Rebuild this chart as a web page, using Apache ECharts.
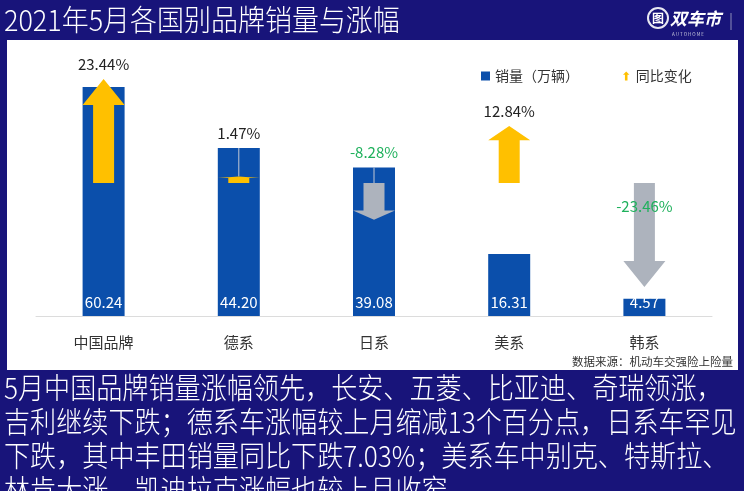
<!DOCTYPE html>
<html><head><meta charset="utf-8">
<script src="https://cdn.jsdelivr.net/npm/echarts@6/dist/echarts.min.js"></script>
<style>html,body{margin:0;padding:0;background:#18147a;}#c{width:744px;height:491px;}</style>
</head><body><div id="c"></div>
<script>
const titleText = '2021年5月各国别品牌销量与涨幅';
const categories = ['中国品牌', '德系', '日系', '美系', '韩系'];
const sales = [60.24, 44.20, 39.08, 16.31, 4.57];
const yoy = [23.44, 1.47, -8.28, 12.84, -23.46];
const legendNames = ['销量（万辆）', '同比变化'];
const sourceText = '数据来源：机动车交强险上险量';
const noteLines = [
  '5月中国品牌销量涨幅领先，长安、五菱、比亚迪、奇瑞领涨，',
  '吉利继续下跌；德系车涨幅较上月缩减13个百分点，日系车罕见',
  '下跌，其中丰田销量同比下跌7.03%；美系车中别克、特斯拉、',
  '林肯大涨，凯迪拉克涨幅也较上月收窄'
];

const FONT = '"Noto Sans CJK SC", "Microsoft YaHei", sans-serif';
const Y1 = [0, 70], Y2 = [-30, 30];
const labelInsideArrow = [false, false, false, false, true];

const chart = echarts.init(document.getElementById('c'), null, {renderer: 'canvas'});

const graphics = [
  {type: 'rect', shape: {x: 7, y: 40, width: 731, height: 330}, style: {fill: '#ffffff'}, z: -10},
  {type: 'text', x: 4, y: 20, scaleX: 0.93, style: {text: titleText, fill: '#ffffff', fontSize: 29, fontWeight: 300, fontFamily: FONT, verticalAlign: 'middle'}},
  // logo
  {type: 'circle', shape: {cx: 658, cy: 18, r: 10}, style: {fill: 'none', stroke: '#e8e8f2', lineWidth: 2}},
  {type: 'text', x: 658, y: 18, style: {text: '图', fill: '#ffffff', fontSize: 12, fontWeight: 'bold', fontFamily: FONT, align: 'center', verticalAlign: 'middle'}},
  {type: 'text', x: 670, y: 19, style: {text: '双车市', fill: '#ffffff', fontSize: 17, fontWeight: 'bold', fontStyle: 'italic', fontFamily: FONT, verticalAlign: 'middle'}},
  {type: 'text', x: 672, y: 34, style: {text: 'A U T O H O M E', fill: '#c8c8dc', fontSize: 4.5, fontFamily: FONT, verticalAlign: 'middle'}},
  {type: 'line', shape: {x1: 731, y1: 13, x2: 731, y2: 30}, style: {stroke: '#8c8cb8', lineWidth: 1}},
  {type: 'text', x: 733, y: 362, style: {text: sourceText, fill: '#333333', fontSize: 11.5, fontFamily: FONT, align: 'right', verticalAlign: 'middle'}}
];
noteLines.forEach((t, k) => {
  graphics.push({type: 'text', x: 4, y: 388 + k * 34, scaleX: 0.9,
    style: {text: t, fill: '#ffffff', fontSize: 29, fontWeight: 300, fontFamily: FONT, verticalAlign: 'middle'}});
});

function renderArrow(params, api) {
  const i = api.value(0), v = api.value(1);
  const base = api.coord([i, 0]);
  const end = api.coord([i, v]);
  const x = base[0];
  const y0 = base[1], y1 = end[1];
  const len = Math.abs(y1 - y0);
  const dir = v >= 0 ? -1 : 1;
  const head = len * 0.25;
  const hw = 21, sw = 10.5;
  const hb = y1 - dir * head;
  const pts = [[x - sw, y0], [x - sw, hb], [x - hw, hb], [x, y1], [x + hw, hb], [x + sw, hb], [x + sw, y0]];
  const barVal = (sales[i] - Y1[0]) / (Y1[1] - Y1[0]) * (Y2[1] - Y2[0]) + Y2[0];
  const barTop = api.coord([i, barVal])[1];
  const arrowTop = Math.min(y0, y1);
  const children = [];
  if (arrowTop > barTop) {
    children.push({type: 'line', shape: {x1: x, y1: barTop, x2: x, y2: arrowTop}, style: {stroke: '#c4c9d4', lineWidth: 1}});
  }
  children.push({type: 'polygon', shape: {points: pts}, style: {fill: v >= 0 ? '#ffc000' : '#adb3bd'}});
  const ly = labelInsideArrow[i] ? arrowTop + 23 : Math.min(barTop, arrowTop) - 15;
  children.push({type: 'text', style: {text: v.toFixed(2) + '%', x: x, y: ly, align: 'center', verticalAlign: 'middle',
    fill: v >= 0 ? '#222222' : '#1fb15c', fontSize: 15, fontFamily: FONT}, z2: 10});
  return {type: 'group', children: children};
}

chart.setOption({
  backgroundColor: '#18147a',
  animation: false,
  textStyle: {fontFamily: FONT},
  graphic: graphics,
  grid: {left: 36, right: 32, top: 50, bottom: 175},
  legend: {
    left: 476, top: 64, itemWidth: 9, itemHeight: 9, itemGap: 44,
    textStyle: {fontSize: 14, color: '#333333', fontFamily: FONT},
    data: [
      {name: legendNames[0], icon: 'rect'},
      {name: legendNames[1], icon: 'path://M5,0 L10,5 L7,5 L7,14 L3,14 L3,5 L0,5 Z'}
    ]
  },
  xAxis: {
    type: 'category', data: categories,
    axisLine: {lineStyle: {color: '#dcdcdc', width: 1}},
    axisTick: {show: false},
    axisLabel: {margin: 19, fontSize: 15, color: '#333333', fontFamily: FONT}
  },
  yAxis: [
    {type: 'value', min: Y1[0], max: Y1[1], show: false},
    {type: 'value', min: Y2[0], max: Y2[1], show: false}
  ],
  series: [
    {
      name: legendNames[0], type: 'bar', data: sales, barWidth: 42,
      itemStyle: {color: '#0b4fab'},
      label: {show: true, position: 'insideBottom', distance: 6, color: '#ffffff', fontSize: 15, fontFamily: FONT,
        formatter: p => p.value.toFixed(2)}
    },
    {
      name: legendNames[1], type: 'custom', yAxisIndex: 1,
      itemStyle: {color: '#ffc000'},
      data: yoy.map((v, i) => [i, v]),
      renderItem: renderArrow, z: 5
    }
  ]
});
</script></body></html>
